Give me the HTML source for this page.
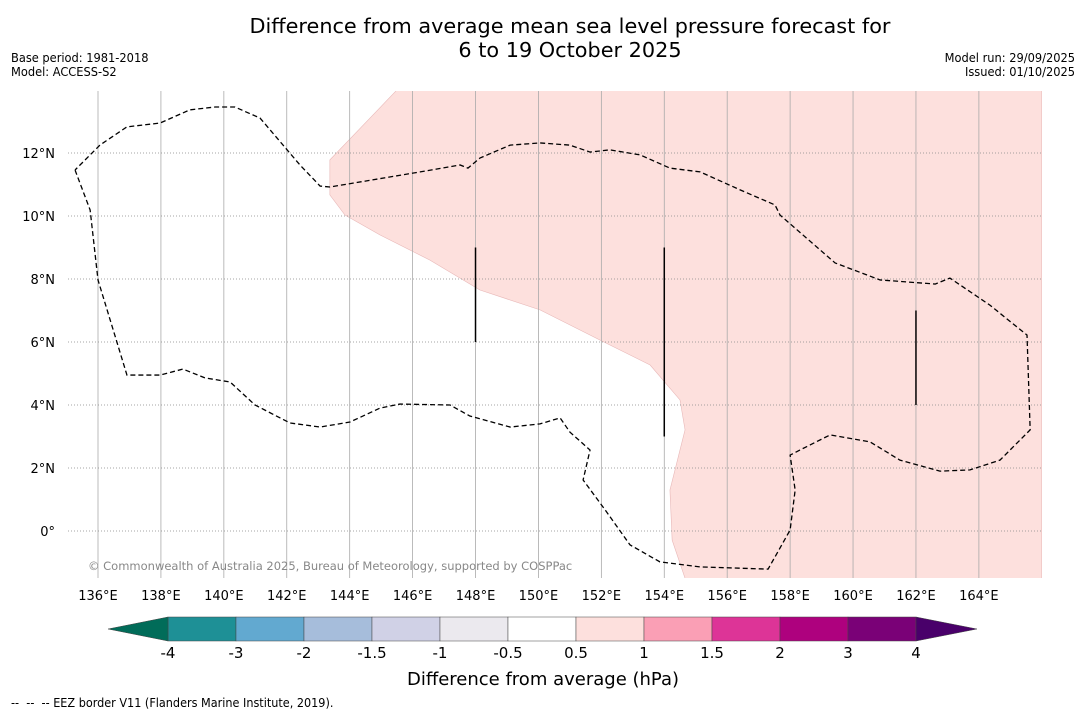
<!DOCTYPE html>
<html><head><meta charset="utf-8">
<style>
html,body{margin:0;padding:0;background:#fff;}
body{width:1085px;height:713px;overflow:hidden;position:relative;font-family:"DejaVu Sans","Liberation Sans",sans-serif;}
.t{position:absolute;white-space:nowrap;color:#000;}
.cond{font-family:"DejaVu Sans Condensed","DejaVu Sans","Liberation Sans",sans-serif;font-stretch:condensed;}
</style></head><body>
<div class="t" style="left:0;width:1140px;top:14px;text-align:center;font-size:20.8px;line-height:24px;">Difference from average mean sea level pressure forecast for<br>6 to 19 October 2025</div>
<div class="t cond" style="left:11px;top:51px;font-size:12.7px;line-height:14px;">Base period: 1981-2018<br>Model: ACCESS-S2</div>
<div class="t cond" style="right:10px;top:51px;font-size:12.7px;line-height:14px;text-align:right;">Model run: 29/09/2025<br>Issued: 01/10/2025</div>
<svg id="map" width="1085" height="713" style="position:absolute;left:0;top:0"></svg>
<div class="t cond" style="left:11px;top:695px;font-size:12.5px;">-- &nbsp;-- &nbsp;-- EEZ border V11 (Flanders Marine Institute, 2019).</div>
<script>
const lonTicks=[136,138,140,142,144,146,148,150,152,154,156,158,160,162,164];
const latTicks=[0,2,4,6,8,10,12];
const anomLon=[145.50,143.37,143.37,143.85,144.96,146.55,148.14,150.05,151.96,153.55,154.50,154.66,154.18,154.25,154.66,166,166];
const anomLat=[14,11.78,10.67,10.03,9.40,8.60,7.65,7.02,6.06,5.27,4.16,3.21,1.30,-0.29,-1.5,-1.5,14];
const eezLon=[135.27,135.75,136.00,136.92,137.97,138.70,139.40,140.20,140.99,142.10,143.06,144.01,144.96,145.60,147.19,147.82,149.10,150.05,150.69,151.00,151.64,151.42,152.12,152.91,153.86,155.14,157.30,158.00,158.16,158.00,158.31,159.27,160.54,161.49,162.76,163.72,164.67,165.63,165.53,164.35,163.08,162.61,160.86,159.43,157.68,157.52,156.41,155.14,154.18,153.23,152.27,151.64,151.00,150.05,149.10,148.14,147.76,147.51,146.24,143.37,143.06,142.42,141.15,140.35,139.72,138.92,137.97,136.92,136.06,135.27];
const eezLat=[11.46,10.19,7.97,4.95,4.95,5.14,4.86,4.73,4.00,3.43,3.30,3.46,3.90,4.03,4.00,3.65,3.30,3.40,3.59,3.14,2.57,1.62,0.67,-0.44,-0.98,-1.14,-1.21,0.03,1.30,2.41,2.57,3.05,2.83,2.25,1.90,1.94,2.25,3.21,6.22,7.17,8.03,7.84,7.97,8.51,10.03,10.35,10.83,11.40,11.52,11.94,12.10,12.03,12.25,12.32,12.25,11.84,11.52,11.62,11.40,10.92,10.95,11.62,13.11,13.46,13.46,13.37,12.95,12.83,12.25,11.46];
const segLon=[148,154,162];
const segLat0=[6,3,4];
const segLat1=[9,9,7];
const cbLevels=[-4,-3,-2,-1.5,-1,-0.5,0.5,1,1.5,2,3,4];
const cbColors=["#1e9096","#62a9d0","#a6bddb","#d0d1e6","#ebe9ee","#ffffff","#fde0dd","#fa9fb5","#dd3497","#ae017e","#7a0177"];
const X=lon=>98+(lon-136)*31.46, Y=lat=>531-lat*31.5;
const NS="http://www.w3.org/2000/svg", svg=document.getElementById('map');
function mk(tag,attrs,parent){const e=document.createElementNS(NS,tag);for(const k in attrs)e.setAttribute(k,attrs[k]);(parent||svg).appendChild(e);return e;}
const L=68,R=1042,T=91,B=578;
const cpath=mk('clipPath',{id:'clip'});
mk('rect',{x:L,y:T,width:R-L,height:B-T},cpath);
const g=mk('g',{'clip-path':'url(#clip)'});
const poly=mk('polygon',{points:anomLon.map((v,i)=>X(v)+','+Y(anomLat[i])).join(' '),fill:'#fde0dd',stroke:'#e8b8b8','stroke-width':0.6},g);


lonTicks.forEach(v=>{const l=mk('line',{x1:X(v),x2:X(v),y1:T,y2:B,stroke:'#aaa','stroke-width':0.8},g);


const t=mk('text',{x:X(v),y:600,'text-anchor':'middle','font-size':13,fill:'#000'});t.textContent=v+'°E';

});
latTicks.forEach(v=>{const l=mk('line',{x1:L,x2:R,y1:Y(v),y2:Y(v),stroke:'#888','stroke-width':0.8,'stroke-dasharray':'1,2'},g);


const t=mk('text',{x:55,y:Y(v)+5,'text-anchor':'end','font-size':13,fill:'#000'});t.textContent=v===0?'0°':v+'°N';

});
const eez=mk('polyline',{points:eezLon.map((v,i)=>X(v)+','+Y(eezLat[i])).join(' '),fill:'none',stroke:'#000','stroke-width':1.3,'stroke-dasharray':'5,3'},g);


segLon.forEach((v,i)=>{const l=mk('line',{x1:X(v),x2:X(v),y1:Y(segLat0[i]),y2:Y(segLat1[i]),stroke:'#000','stroke-width':1.5},g);

});
const cr=mk('text',{x:88,y:570,'font-size':11.5,fill:'#888'});cr.textContent='© Commonwealth of Australia 2025, Bureau of Meteorology, supported by COSPPac';


const cx0=168,cw=68,cy=617,ch=24;
cbColors.forEach((c,i)=>{const r=mk('rect',{x:cx0+i*cw,y:cy,width:cw,height:ch,fill:c,stroke:'#444','stroke-width':0.5});

});
const le=mk('polygon',{points:`${cx0},${cy} 108,${cy+ch/2} ${cx0},${cy+ch}`,fill:'#016c59',stroke:'#444','stroke-width':0.5});


const xe=cx0+cbColors.length*cw;
const he=mk('polygon',{points:`${xe},${cy} 977,${cy+ch/2} ${xe},${cy+ch}`,fill:'#49006a',stroke:'#444','stroke-width':0.5});


cbLevels.forEach((v,i)=>{const t=mk('text',{x:cx0+i*cw,y:658,'text-anchor':'middle','font-size':15,fill:'#000'});t.textContent=v;

});
const ct=mk('text',{x:543,y:685,'text-anchor':'middle','font-size':18,fill:'#000'});ct.textContent='Difference from average (hPa)';


</script>
</body></html>
